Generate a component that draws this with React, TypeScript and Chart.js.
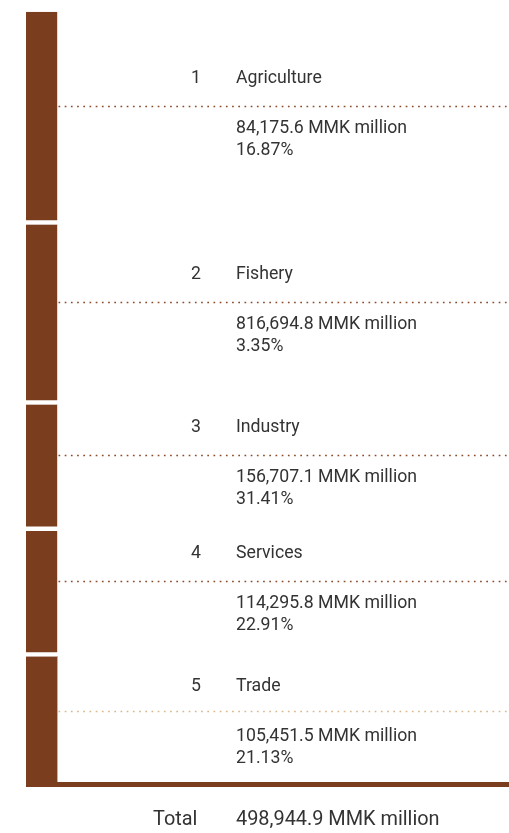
import React, { useEffect, useRef } from "react";
import { Chart, registerables } from "chart.js";

Chart.register(...registerables);

const sectors = ["Agriculture", "Fishery", "Industry", "Services", "Trade"];
const sectorNumbers = ["1", "2", "3", "4", "5"];
const amountLabels = [
  "84,175.6 MMK million",
  "816,694.8 MMK million",
  "156,707.1 MMK million",
  "114,295.8 MMK million",
  "105,451.5 MMK million",
];
const shareLabels = ["16.87%", "3.35%", "31.41%", "22.91%", "21.13%"];
// block sizes as drawn in the reference (not proportional to shares)
const blockSizes = [212.6, 180, 126.4, 125.6, 125.7];
const totalLabel = "Total";
const totalValue = "498,944.9 MMK million";

const BROWN = "#7a3e1f";
const TEXT = "#333333";

export default function App() {
  const ref = useRef<HTMLCanvasElement | null>(null);

  useEffect(() => {
    if (!ref.current) return;
    const total = blockSizes.reduce((a, b) => a + b, 0);

    const labelsPlugin = {
      id: "sectorLabels",
      afterDatasetsDraw(chart: any) {
        const ctx = chart.ctx as CanvasRenderingContext2D;
        const area = chart.chartArea;
        const W = chart.width;
        ctx.save();
        // baseline
        ctx.fillStyle = BROWN;
        ctx.fillRect(area.left, area.bottom, W - area.left, 5);

        sectors.forEach((name, i) => {
          const meta = chart.getDatasetMeta(i);
          const el = meta.data[0];
          const props = el.getProps(["y", "base"], true);
          const top = Math.min(props.y, props.base);
          const bottom = Math.max(props.y, props.base);
          const last = i === sectors.length - 1;
          const gap = last ? 0 : 4.5;
          const center = (top + bottom - gap) / 2;
          const lineY = Math.round(center - (last ? 8 : 10)) + 0.5;

          // dotted leader
          ctx.beginPath();
          ctx.setLineDash([1.7, 4.5]);
          ctx.lineWidth = 1.7;
          ctx.strokeStyle = last ? "#d9b68f" : "#8c4a28";
          ctx.moveTo(area.right + 1, lineY);
          ctx.lineTo(W, lineY);
          ctx.stroke();
          ctx.setLineDash([]);

          const tOff = last ? 25 : 28;
          const v1 = last ? 25 : 22;
          const v2 = last ? 47 : 44;
          ctx.fillStyle = TEXT;
          ctx.font = "17.7px Roboto";
          ctx.textBaseline = "middle";
          ctx.textAlign = "center";
          ctx.fillText(sectorNumbers[i], 196, lineY - tOff);
          ctx.textAlign = "left";
          ctx.fillText(name, 236, lineY - tOff);
          ctx.fillText(amountLabels[i], 236, lineY + v1);
          ctx.fillText(shareLabels[i], 236, lineY + v2);
        });

        ctx.fillStyle = TEXT;
        ctx.font = "19.9px Roboto";
        ctx.textBaseline = "middle";
        ctx.textAlign = "left";
        ctx.fillText(totalLabel, 153, 820);
        ctx.fillText(totalValue, 236, 820);
        ctx.restore();
      },
    };

    const chart = new Chart(ref.current, {
      type: "bar",
      data: {
        labels: ["Sectors"],
        datasets: sectors.map((s, i) => ({
          label: s,
          data: [blockSizes[i]],
          backgroundColor: BROWN,
          borderColor: "#ffffff",
          borderSkipped: false,
          borderWidth: { top: 0, left: 0, right: 0, bottom: i < sectors.length - 1 ? 4.5 : 0 },
          barPercentage: 1,
          categoryPercentage: 1,
        })),
      },
      options: {
        responsive: false,
        animation: false,
        devicePixelRatio: 1,
        layout: { padding: { left: 26, right: 451.5, top: 11.7, bottom: 51 } },
        plugins: { legend: { display: false }, tooltip: { enabled: false } },
        scales: {
          x: { stacked: true, display: false },
          y: { stacked: true, display: false, reverse: true, min: 0, max: total },
        },
      },
      plugins: [labelsPlugin],
    });
    return () => chart.destroy();
  }, []);

  return (
    <div style={{ position: "fixed", left: 0, top: 0, width: 509, height: 833, background: "#fff" }}>
      <canvas ref={ref} width={509} height={833} style={{ display: "block" }} />
    </div>
  );
}
